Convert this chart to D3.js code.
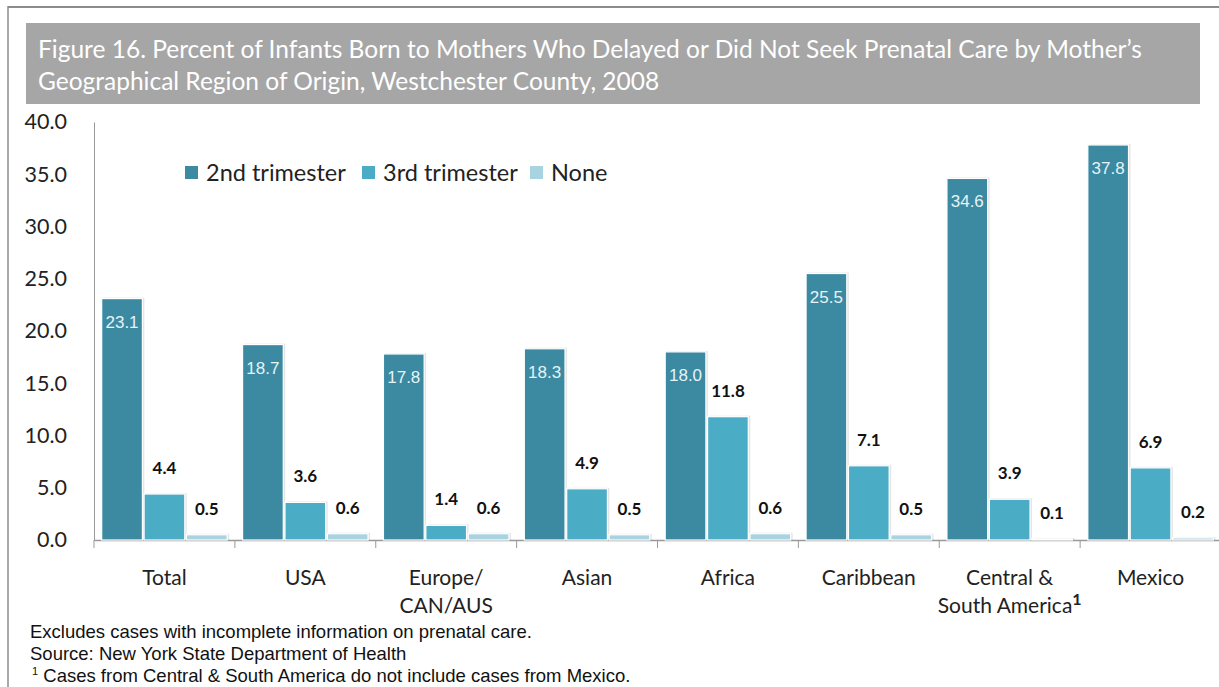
<!DOCTYPE html>
<html>
<head>
<meta charset="utf-8">
<script src="https://cdn.jsdelivr.net/npm/d3@7/dist/d3.min.js"></script>
<style>
  body { margin: 0; background: #fff; }
  svg { display: block; }
  .calibri { font-family: Lato, "Open Sans", sans-serif; }
  .arial { font-family: "Liberation Sans", Arial, sans-serif; }
</style>
</head>
<body>
<svg id="chart" width="1219" height="687"></svg>
<script>
  // chart data
  const regions = ['Total', 'USA', 'Europe/\nCAN/AUS', 'Asian', 'Africa', 'Caribbean', 'Central &\nSouth America', 'Mexico'];
  const series = ['2nd trimester', '3rd trimester', 'None'];
  const second = [23.1, 18.7, 17.8, 18.3, 18.0, 25.5, 34.6, 37.8];
  const third = [4.4, 3.6, 1.4, 4.9, 11.8, 7.1, 3.9, 6.9];
  const none = [0.5, 0.6, 0.6, 0.5, 0.6, 0.5, 0.1, 0.2];
  const yTicks = [0, 5, 10, 15, 20, 25, 30, 35, 40];
  const colors = ['#3b8aa2', '#4bacc6', '#a8d3e0'];
  const titleLines = [
    'Figure 16. Percent of Infants Born to Mothers Who Delayed or Did Not Seek Prenatal Care by Mother\u2019s',
    'Geographical Region of Origin, Westchester County, 2008'
  ];
  const notes = [
    'Excludes cases with incomplete information on prenatal care.',
    'Source: New York State Department of Health',
    'Cases from Central & South America do not include cases from Mexico.'
  ];

  const values = [second, third, none];
  const rows = regions.map((r, i) => ({ region: r, vals: values.map(v => v[i]) }));

  const svg = d3.select('#chart');

  // outer frame
  svg.append('line').attr('x1', 8).attr('x2', 1219).attr('y1', 7).attr('y2', 7)
    .attr('stroke', '#8c8c8c').attr('stroke-width', 2);
  svg.append('line').attr('x1', 8).attr('x2', 8).attr('y1', 6).attr('y2', 687)
    .attr('stroke', '#8c8c8c').attr('stroke-width', 1.5);

  // title box
  svg.append('rect').attr('x', 26).attr('y', 23).attr('width', 1174).attr('height', 81)
    .attr('fill', '#a6a6a6');
  svg.append('g').selectAll('text').data(titleLines).join('text')
    .attr('class', 'calibri')
    .attr('x', 38).attr('y', (d, i) => 58 + i * 32)
    .attr('fill', '#fff').attr('font-size', 24.5)
    .text(d => d);

  const x0 = d3.scaleBand().domain(regions).range([94, 1221]).paddingInner(0);
  const x1 = d3.scaleBand().domain(series).range([6, x0.bandwidth() - 6]).padding(0.04);
  const y = d3.scaleLinear().domain([0, 40]).range([540, 122]);

  // y axis
  const yAxis = svg.append('g').attr('transform', 'translate(94,0)')
    .call(d3.axisLeft(y).tickValues(yTicks).tickFormat(d3.format('.1f')).tickSize(0).tickPadding(27));
  yAxis.select('.domain').attr('stroke', '#999');
  yAxis.selectAll('text').attr('class', 'calibri').attr('font-size', 21.5).attr('fill', '#222');

  // x axis
  const xAxis = svg.append('g').attr('transform', 'translate(0,540)')
    .call(d3.axisBottom(x0).tickSize(0).tickFormat(''));
  xAxis.select('.domain').attr('stroke', '#999').attr('stroke-width', 1.5);
  svg.append('g').selectAll('line').data(regions).join('line')
    .attr('x1', d => x0(d)).attr('x2', d => x0(d))
    .attr('y1', 540).attr('y2', 548).attr('stroke', '#999');

  // category labels
  const lab = svg.append('g').selectAll('text').data(regions).join('text')
    .attr('class', 'calibri')
    .attr('x', d => x0(d) + x0.bandwidth() / 2).attr('y', 585)
    .attr('text-anchor', 'middle').attr('font-size', 21).attr('fill', '#222');
  lab.each(function(d) {
    const parts = d.split('\n');
    const t = d3.select(this);
    parts.forEach((p, i) => {
      t.append('tspan').attr('x', x0(d) + x0.bandwidth() / 2).attr('dy', i ? 28 : 0).text(p);
    });
    if (d.startsWith('Central')) {
      t.append('tspan').attr('font-weight', 'bold').attr('font-size', 16).attr('dy', -8).text('1');
    }
  });

  // bars
  const groups = svg.append('g').selectAll('g').data(rows).join('g')
    .attr('transform', d => `translate(${x0(d.region)},0)`);
  const cells = groups.selectAll('g').data(d => d.vals.map((v, k) => ({ key: series[k], k, v })))
    .join('g');
  cells.append('rect')
    .attr('x', d => x1(d.key) + 2).attr('y', d => y(d.v) - 1)
    .attr('width', x1.bandwidth()).attr('height', d => y(0) - y(d.v) + 1)
    .attr('fill', 'rgba(0,0,0,0.10)');
  cells.append('rect')
    .attr('x', d => x1(d.key)).attr('y', d => y(d.v))
    .attr('width', x1.bandwidth()).attr('height', d => y(0) - y(d.v))
    .attr('fill', d => colors[d.k]).attr('stroke', '#fff').attr('stroke-width', 1.2);

  // value labels
  cells.append('text')
    .attr('x', d => x1(d.key) + x1.bandwidth() / 2)
    .attr('y', d => d.k === 0 ? y(d.v) + 29 : y(d.v) - 20)
    .attr('text-anchor', 'middle')
    .attr('class', d => d.k === 0 ? 'arial' : 'calibri')
    .attr('font-size', 17)
    .attr('font-weight', d => d.k === 0 ? 'normal' : 'bold')
    .attr('fill', d => d.k === 0 ? '#e6f3f7' : '#111')
    .text(d => d3.format('.1f')(d.v));

  // legend
  const legX = [185, 362, 530];
  const leg = svg.append('g').selectAll('g').data(series).join('g')
    .attr('transform', (d, i) => `translate(${legX[i]},166)`);
  leg.append('rect').attr('width', 13).attr('height', 13).attr('fill', (d, i) => colors[i]);
  leg.append('text').attr('class', 'calibri').attr('x', 21).attr('y', 14.5)
    .attr('font-size', 23.5).attr('fill', '#222').text(d => d);

  // footnotes
  const fn = svg.append('g').selectAll('text').data(notes).join('text')
    .attr('class', 'arial').attr('x', 30).attr('y', (d, i) => 638 + i * 22)
    .attr('font-size', 18.5).attr('fill', '#111');
  fn.filter((d, i) => i === 2).attr('x', 32).text(null)
    .call(t => {
      t.append('tspan').attr('font-size', 11).attr('dy', -7).text('1');
      t.append('tspan').attr('dy', 7).text(' ' + notes[2]);
    });
  fn.filter((d, i) => i < 2).text(d => d);
</script>
</body>
</html>
